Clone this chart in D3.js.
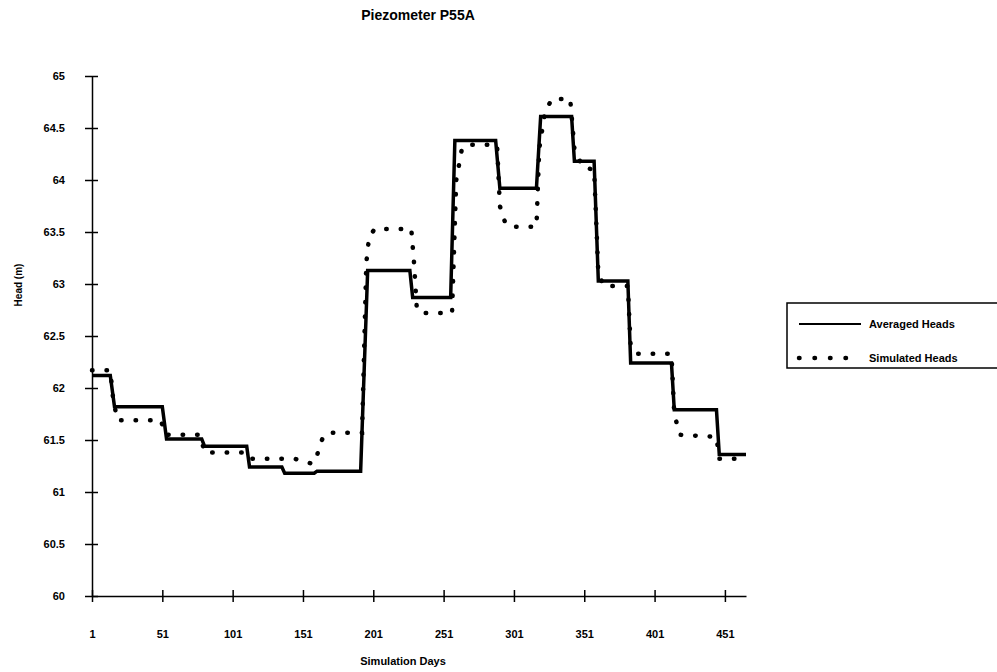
<!DOCTYPE html>
<html>
<head>
<meta charset="utf-8">
<script src="https://cdn.jsdelivr.net/npm/d3@7"></script>
<style>
body { margin: 0; background: #fff; }
text { font-family: "Liberation Sans", Arial, sans-serif; font-weight: bold; fill: #000; }
</style>
</head>
<body>
<svg id="chart"></svg>
<script>
WIDTH = 997;
HEIGHT = 672;

const title = 'Piezometer P55A';
const xTitle = 'Simulation Days';
const yTitle = 'Head (m)';
const seriesNames = ['Averaged Heads', 'Simulated Heads'];

const xTicks = [1, 51, 101, 151, 201, 251, 301, 351, 401, 451];
const yTicks = [60, 60.5, 61, 61.5, 62, 62.5, 63, 63.5, 64, 64.5, 65];

// averaged heads: flat steps
const averagedDays = [1, 14, 17, 51, 54, 79, 81, 111, 113, 136, 138, 159, 161, 192, 197, 227, 229, 256, 259, 288, 291, 317, 320, 342, 344, 358, 361, 382, 384, 413, 415, 445, 447, 466];
const averagedHeads = [62.12, 62.12, 61.82, 61.82, 61.51, 61.51, 61.44, 61.44, 61.24, 61.24, 61.18, 61.18, 61.2, 61.2, 63.13, 63.13, 62.87, 62.87, 64.38, 64.38, 63.92, 63.92, 64.61, 64.61, 64.18, 64.18, 63.03, 63.03, 62.24, 62.24, 61.79, 61.79, 61.36, 61.36];

// simulated heads
const simulatedDays = [1, 14, 16, 19, 50, 53, 78, 81, 109, 112, 145, 158, 161, 163, 166, 172, 193, 196, 198, 202, 228, 230, 232, 236, 257, 260, 264, 268, 289, 291, 295, 300, 317, 319, 323, 328, 341, 344, 350, 358, 361, 365, 382, 384, 388, 413, 415, 419, 445, 447, 466];
const simulatedHeads = [62.17, 62.17, 61.9, 61.69, 61.69, 61.55, 61.55, 61.38, 61.38, 61.32, 61.32, 61.27, 61.35, 61.45, 61.55, 61.57, 61.57, 63.2, 63.45, 63.53, 63.53, 63.2, 62.75, 62.72, 62.72, 64.0, 64.3, 64.34, 64.34, 63.75, 63.58, 63.55, 63.55, 64.3, 64.65, 64.78, 64.78, 64.3, 64.12, 64.1, 63.1, 62.98, 62.98, 62.4, 62.33, 62.33, 61.75, 61.55, 61.53, 61.32, 61.32];

const svg = d3.select('#chart')
.attr('width', WIDTH)
.attr('height', HEIGHT);

const xScale = d3.scaleLinear()
.domain([1, 466])
.range([92, 746]);

const yScale = d3.scaleLinear()
.domain([60, 65])
.range([596, 76]);

svg.append('text')
.attr('x', 418)
.attr('y', 20)
.attr('text-anchor', 'middle')
.style('font-size', '14px')
.text(title);

const xAxis = svg.append('g')
.attr('transform', 'translate(0,596)')
.call(d3.axisBottom(xScale).tickValues(xTicks).tickFormat(d3.format('d')).tickSizeOuter(0));

const yAxis = svg.append('g')
.attr('transform', 'translate(92,0)')
.call(d3.axisLeft(yScale).tickValues(yTicks).tickFormat(d => d).tickSizeOuter(0));

xAxis.selectAll('.tick line').attr('y1', -6).attr('y2', 6);
xAxis.selectAll('.tick text').attr('y', 38).attr('dy', '0.35em').style('font-size', '11px');
yAxis.selectAll('.tick line').attr('x1', -7).attr('x2', 6);
yAxis.selectAll('.tick text').attr('x', -27).attr('dy', '0.35em').style('font-size', '11px');
svg.selectAll('.domain, .tick line').attr('stroke', '#000').attr('stroke-width', 1.5);

svg.append('text')
.attr('x', 403)
.attr('y', 661)
.attr('text-anchor', 'middle')
.attr('dy', '0.35em')
.style('font-size', '11px')
.text(xTitle);

svg.append('text')
.attr('transform', 'translate(18,285) rotate(-90)')
.attr('text-anchor', 'middle')
.attr('dy', '0.35em')
.style('font-size', '10px')
.text(yTitle);

const line = d3.line()
.x(d => xScale(d[0]))
.y(d => yScale(d[1]));

svg.append('path')
.datum(d3.zip(simulatedDays, simulatedHeads))
.attr('d', line)
.attr('fill', 'none')
.attr('stroke', '#000')
.attr('stroke-width', 4.5)
.attr('stroke-linecap', 'round')
.attr('stroke-dasharray', '0.5,14');

svg.append('path')
.datum(d3.zip(averagedDays, averagedHeads))
.attr('d', line)
.attr('fill', 'none')
.attr('stroke', '#000')
.attr('stroke-width', 3.5);

// legend
const legend = svg.append('g')
.attr('transform', 'translate(787,303)');

legend.append('rect')
.attr('width', 214)
.attr('height', 65)
.attr('fill', 'none')
.attr('stroke', '#000')
.attr('stroke-width', 1.5);

legend.selectAll('line')
.data(seriesNames)
.join('line')
.attr('x1', 12)
.attr('x2', 74)
.attr('y1', (d, i) => 21 + i * 34)
.attr('y2', (d, i) => 21 + i * 34)
.attr('stroke', '#000')
.attr('stroke-width', (d, i) => i == 0 ? 2 : 4.5)
.attr('stroke-linecap', (d, i) => i == 0 ? 'butt' : 'round')
.attr('stroke-dasharray', (d, i) => i == 0 ? null : '0.5,15');

legend.selectAll('text')
.data(seriesNames)
.join('text')
.attr('x', 82)
.attr('y', (d, i) => 21 + i * 34)
.attr('dy', '0.35em')
.style('font-size', '11px')
.text(d => d);
</script>
</body>
</html>
